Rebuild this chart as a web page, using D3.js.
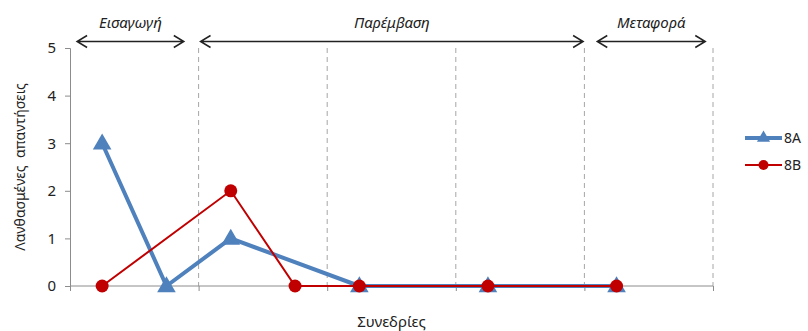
<!DOCTYPE html>
<html>
<head>
<meta charset="utf-8">
<script src="https://cdn.jsdelivr.net/npm/d3@7"></script>
<style>
  html, body { margin: 0; padding: 0; background: #fff; }
  svg text { font-family: "Noto Sans", "DejaVu Sans", sans-serif; fill: #222; }
</style>
</head>
<body>
<svg id="chart" width="808" height="331"></svg>
<script>
// Session positions (x) and wrong answers (y) for each class
const series8A_x = [0.5, 1.5, 2.5, 4.5, 6.5, 8.5];
const series8A_y = [3, 0, 1, 0, 0, 0];
const series8B_x = [0.5, 2.5, 3.5, 4.5, 6.5, 8.5];
const series8B_y = [0, 2, 0, 0, 0, 0];

const yTicks = [0, 1, 2, 3, 4, 5];
const xTicks = [0, 2, 4, 6, 8, 10];

// Phases of the study, spans in session units
const phaseNames = ["Εισαγωγή", "Παρέμβαση", "Μεταφορά"];
const phaseStart = [0.11, 2.03, 8.2];
const phaseEnd = [1.77, 7.98, 9.88];

const svg = d3.select("#chart");
const margin = { left: 70, right: 95, top: 48, bottom: 45 };
const W = 808, H = 331;

const x = d3.scaleLinear().domain([0, 10]).range([margin.left, W - margin.right]);
const y = d3.scaleLinear().domain([0, 5]).range([H - margin.bottom, margin.top]);

const axisColor = "#8c8c8c";

// Dashed vertical gridlines at phase/session boundaries
svg.append("g").selectAll("line")
  .data(xTicks.slice(1))
  .join("line")
  .attr("x1", d => x(d)).attr("x2", d => x(d))
  .attr("y1", y(5)).attr("y2", y(0))
  .attr("stroke", "#a6a6a6").attr("stroke-width", 1)
  .attr("stroke-dasharray", "5,4");

// Y axis
const yAxis = svg.append("g")
  .attr("transform", `translate(${x(0)},0)`)
  .call(d3.axisLeft(y).tickValues(yTicks).tickFormat(d3.format("d")).tickSize(5).tickPadding(9));
yAxis.select(".domain").attr("stroke", axisColor);
yAxis.selectAll(".tick line").attr("stroke", axisColor);
yAxis.selectAll(".tick text").attr("font-size", 15).attr("fill", "#222");

// X axis (ticks only, no labels)
const xAxis = svg.append("g")
  .attr("transform", `translate(0,${y(0)})`)
  .call(d3.axisBottom(x).tickValues(xTicks).tickSize(5).tickFormat(""));
xAxis.select(".domain").attr("stroke", axisColor).attr("d", `M${x(0)},0H${x(10)}`);
xAxis.selectAll(".tick line").attr("stroke", axisColor);

// Axis titles
svg.append("text")
  .attr("x", (x(0) + x(10)) / 2).attr("y", 327)
  .attr("text-anchor", "middle").attr("font-size", 15)
  .text("Συνεδρίες");

svg.append("text")
  .attr("transform", `translate(25,${(y(0) + y(5)) / 2}) rotate(-90)`)
  .attr("text-anchor", "middle").attr("font-size", 14)
  .attr("xml:space", "preserve")
  .text("Λανθασμένες  απαντήσεις");

// Phase arrows with labels
const arrowY = 41.5;
const phases = phaseNames.map((n, i) => ({ name: n, s: phaseStart[i], e: phaseEnd[i] }));
const pg = svg.append("g").selectAll("g").data(phases).join("g");
pg.append("path")
  .attr("d", d => {
    const a = x(d.s), b = x(d.e), h = 6, w = 10;
    return `M${a},${arrowY}H${b}` +
      `M${a + w},${arrowY - h}L${a},${arrowY}L${a + w},${arrowY + h}` +
      `M${b - w},${arrowY - h}L${b},${arrowY}L${b - w},${arrowY + h}`;
  })
  .attr("fill", "none").attr("stroke", "#222").attr("stroke-width", 1.5);
pg.append("text")
  .attr("x", d => (x(d.s) + x(d.e)) / 2).attr("y", 28)
  .attr("text-anchor", "middle").attr("font-size", 15).attr("font-style", "italic")
  .text(d => d.name);

// Series
const blue = "#4f81bd", red = "#c00000";
const dataA = series8A_x.map((v, i) => [v, series8A_y[i]]);
const dataB = series8B_x.map((v, i) => [v, series8B_y[i]]);
const line = d3.line().x(d => x(d[0])).y(d => y(d[1]));

svg.append("path").datum(dataA).attr("d", line)
  .attr("fill", "none").attr("stroke", blue).attr("stroke-width", 4).attr("stroke-linejoin", "round");
const tri = d3.symbol().type(d3.symbolTriangle).size(150);
svg.append("g").selectAll("path").data(dataA).join("path")
  .attr("transform", d => `translate(${x(d[0])},${y(d[1]) + 1})`)
  .attr("d", tri).attr("fill", blue);

svg.append("path").datum(dataB).attr("d", line)
  .attr("fill", "none").attr("stroke", red).attr("stroke-width", 2);
svg.append("g").selectAll("circle").data(dataB).join("circle")
  .attr("cx", d => x(d[0])).attr("cy", d => y(d[1])).attr("r", 6.5)
  .attr("fill", red);

// Legend
const legend = [
  { name: "8A", color: blue, width: 4, sym: "tri" },
  { name: "8B", color: red, width: 2, sym: "circle" }
];
const lg = svg.append("g").selectAll("g").data(legend).join("g")
  .attr("transform", (d, i) => `translate(745,${138 + i * 27})`);
lg.append("line").attr("x1", 0).attr("x2", 37)
  .attr("stroke", d => d.color).attr("stroke-width", d => d.width);
lg.filter(d => d.sym === "tri").append("path")
  .attr("transform", "translate(18.5,0)")
  .attr("d", d3.symbol().type(d3.symbolTriangle).size(75)).attr("fill", blue);
lg.filter(d => d.sym === "circle").append("circle")
  .attr("cx", 18.5).attr("r", 5).attr("fill", red);
lg.append("text").attr("x", 39).attr("y", 5).attr("font-size", 14)
  .text(d => d.name);
</script>
</body>
</html>
